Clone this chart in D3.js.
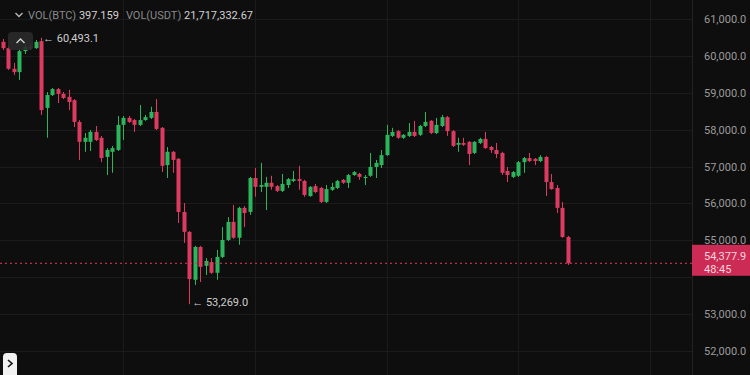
<!DOCTYPE html>
<html>
<head>
<meta charset="utf-8">
<script src="https://cdn.jsdelivr.net/npm/d3@7/dist/d3.min.js"></script>
<style>
  body { margin: 0; background: #0e0e0e; }
  svg { display: block; font-family: Roboto, "Noto Sans", sans-serif; }
</style>
</head>
<body>
<svg id="chart" width="750" height="375"></svg>
<script>
// hourly candles, BTC/USDT
const opens = [60380,60210,59650,59560,60130,60240,60210,60400,58590,58940,59100,58970,58890,58800,58210,57670,57670,57940,57780,57260,
  57400,57450,58130,58320,58260,58130,58260,58320,58480,58050,57040,57400,57210,55770,55230,53930,54820,54310,54410,54120,
  54550,55010,55500,55070,55880,55770,56690,56450,56450,56560,56470,56340,56500,56610,56660,56610,56200,56470,56420,56040,
  56370,56420,56640,56560,56770,56800,56690,56750,56990,57040,57310,57830,57960,57780,57830,57940,57860,58100,58240,57910,
  58100,58340,57960,57590,57640,57670,57370,57640,57750,57530,57450,57370,56880,56720,56750,57120,57230,57210,57150,57260,
  56580,56420,55880,55090];
const highs = [60460,60270,59810,60190,60300,60320,60430,60493.1,59020,59130,59130,59020,59080,58830,58260,57910,57990,58100,57830,57500,
  57560,58370,58370,58370,58290,58670,58400,58620,58830,58070,57530,57420,57230,56010,55250,54850,54850,54520,54520,54740,
  55360,55630,55960,55910,55930,56720,56960,57100,56720,56750,56500,56800,56690,56880,57020,56640,56470,56530,56450,56500,
  56560,56640,56660,56800,56880,56830,56770,57370,57180,57450,58130,58050,57990,57880,58180,58240,58130,58480,58260,58320,
  58400,58370,57990,57780,57780,57690,57690,57780,57940,57560,57640,57400,56990,56880,57150,57260,57370,57230,57310,57290,
  56800,56500,56040,55120];
const lows = [60160,59620,59480,59350,60050,60160,60190,58400,57780,58910,58720,58830,58530,58070,57180,57400,57420,57690,57120,56770,
  56830,57420,57720,58180,57940,58100,58240,58290,57990,56850,56690,56830,55470,54930,53269.0,53790,53870,54060,54090,53930,
  54520,54980,55040,54880,55360,55690,56180,56310,55820,56370,56310,56310,56420,56580,56370,56180,56180,56280,56010,56010,
  56340,56390,56530,56420,56750,56640,56500,56720,56690,56960,57290,57800,57750,57750,57800,57800,57830,58070,57880,57880,
  58070,57830,57530,57400,57560,57040,57340,57610,57480,57370,57230,56770,56580,56690,56720,56830,57120,57040,57120,56200,
  56370,55740,55070,54330];
const closes = [60210,59650,59560,60130,60240,60210,60380,58530,58940,59100,58970,58860,58750,58210,57670,57780,57940,57720,57230,57450,
  57500,58130,58320,58210,58130,58260,58340,58480,58020,57020,57400,57180,55770,55230,53950,54820,54280,54440,54120,54550,
  55010,55500,55070,55880,55740,56690,56450,56500,56560,56450,56340,56530,56660,56660,56610,56230,56450,56310,56040,56390,
  56450,56610,56560,56770,56850,56720,56720,56990,57100,57310,57860,57940,57780,57860,57940,57830,58100,58210,57910,58130,
  58340,57960,57560,57640,57590,57340,57670,57750,57500,57450,57340,56830,56770,56850,57120,57230,57150,57150,57260,56580,
  56390,55880,55090,54377.9];

const priceTicks = [52000,53000,54000,55000,56000,57000,58000,59000,60000,61000];
const dayTicks = [22,46,70,94,118];
const volBtc = "397.159";
const volUsdt = "21,717,332.67";
const countdown = "48:45";

const W = 750, H = 375, plotRight = 692;
const upColor = "#2db55d", downColor = "#dd3a60";

const svg = d3.select("#chart");

const x = d3.scaleLinear().domain([0, opens.length - 1]).range([2.7, 567.7]);
const y = d3.scaleLinear().domain([52000, 61000]).range([351, 19]);

svg.append("rect").attr("width", W).attr("height", H).attr("fill", "#0e0e0e");

// grid
svg.append("g").selectAll("line").data(priceTicks).enter().append("line")
  .attr("x1", 0).attr("x2", plotRight)
  .attr("y1", d => Math.round(y(d)) + 0.5).attr("y2", d => Math.round(y(d)) + 0.5)
  .attr("stroke", "#1b1b1b");

svg.append("g").selectAll("line").data(dayTicks).enter().append("line")
  .attr("x1", d => Math.round(x(d)) + 0.5).attr("x2", d => Math.round(x(d)) + 0.5)
  .attr("y1", 0).attr("y2", H)
  .attr("stroke", "#1b1b1b");

svg.append("line")
  .attr("x1", plotRight + 0.5).attr("x2", plotRight + 0.5)
  .attr("y1", 0).attr("y2", H)
  .attr("stroke", "#232323");

// candles
const candles = opens.map((o, i) => ({ i: i, o: o, h: highs[i], l: lows[i], c: closes[i] }));

const g = svg.append("g");
g.selectAll(".wick").data(candles).enter().append("line")
  .attr("class", "wick")
  .attr("x1", d => Math.round(x(d.i)) + 0.5).attr("x2", d => Math.round(x(d.i)) + 0.5)
  .attr("y1", d => y(d.h)).attr("y2", d => y(d.l))
  .attr("stroke", d => d.c >= d.o ? upColor : downColor)
  .attr("stroke-width", 1);

g.selectAll(".body").data(candles).enter().append("rect")
  .attr("class", "body")
  .attr("x", d => Math.round(x(d.i)) - 1.5)
  .attr("width", 4)
  .attr("y", d => y(Math.max(d.o, d.c)))
  .attr("height", d => Math.max(1, Math.abs(y(d.o) - y(d.c))))
  .attr("fill", d => d.c >= d.o ? upColor : downColor);

// last price line
const last = closes[closes.length - 1];
const tagTop = y(last) - 18.5, tagH = 31;
svg.append("line")
  .attr("x1", 0).attr("x2", plotRight)
  .attr("y1", y(last)).attr("y2", y(last))
  .attr("stroke", downColor).attr("stroke-width", 1)
  .attr("stroke-dasharray", "2,3");

// y axis (labels hidden under the price tag are dropped)
const axis = d3.axisRight(y)
  .tickValues(priceTicks.filter(d => y(d) < tagTop - 3 || y(d) > tagTop + tagH + 3))
  .tickFormat(d3.format(",.1f")).tickSize(0).tickPadding(0);
const ax = svg.append("g").attr("transform", `translate(704,0)`).call(axis);
ax.select(".domain").remove();
ax.selectAll("text").attr("fill", "#9b9b9b").style("font-size", "11px").style("font-family", "Roboto, sans-serif");

// last price tag
svg.append("rect")
  .attr("x", plotRight).attr("y", tagTop)
  .attr("width", W - plotRight).attr("height", tagH)
  .attr("fill", "#cc2b55");
svg.append("text").attr("x", 704).attr("y", y(last) - 3)
  .attr("fill", "#f4d6de").style("font-size", "11px")
  .text(d3.format(",.1f")(last));
svg.append("text").attr("x", 704).attr("y", y(last) + 9.5)
  .attr("fill", "#f4d6de").style("font-size", "11px")
  .text(countdown);

// high / low markers
const hiIdx = highs.indexOf(d3.max(highs));
const loIdx = lows.indexOf(d3.min(lows));
svg.append("text").attr("x", x(hiIdx) + 2).attr("y", y(highs[hiIdx]) + 4)
  .attr("fill", "#cfcfcf").style("font-size", "11px")
  .text("← " + d3.format(",.1f")(highs[hiIdx]));
svg.append("text").attr("x", x(loIdx) + 3).attr("y", y(lows[loIdx]) + 2)
  .attr("fill", "#cfcfcf").style("font-size", "11px")
  .text("← " + d3.format(",.1f")(lows[loIdx]));

// volume legend
svg.append("path").attr("d", "M15.5,13 L19,16.5 L22.5,13")
  .attr("fill", "none").attr("stroke", "#bdbdbd").attr("stroke-width", 1.3);
const legend = svg.append("text").attr("x", 28).attr("y", 19).style("font-size", "11px");
legend.append("tspan").attr("fill", "#8a8a8a").text("VOL(BTC) ");
legend.append("tspan").attr("fill", "#d2d2d2").text(volBtc);
legend.append("tspan").attr("fill", "#8a8a8a").attr("dx", 7).text("VOL(USDT) ");
legend.append("tspan").attr("fill", "#d2d2d2").text(volUsdt);

// collapse button
svg.append("rect").attr("x", 8).attr("y", 32).attr("width", 25).attr("height", 18).attr("rx", 4)
  .attr("fill", "#2a2a2a").attr("fill-opacity", 0.9);
svg.append("path").attr("d", "M16.5,43 L20.5,39 L24.5,43")
  .attr("fill", "none").attr("stroke", "#d0d0d0").attr("stroke-width", 1.4);

// bottom-left expand button
svg.append("rect").attr("x", 3).attr("y", 353).attr("width", 14).attr("height", 30).attr("rx", 4)
  .attr("fill", "#f2f2f2");
svg.append("path").attr("d", "M8,360 L12,363.5 L8,367")
  .attr("fill", "none").attr("stroke", "#111").attr("stroke-width", 1.6);
</script>
</body>
</html>
